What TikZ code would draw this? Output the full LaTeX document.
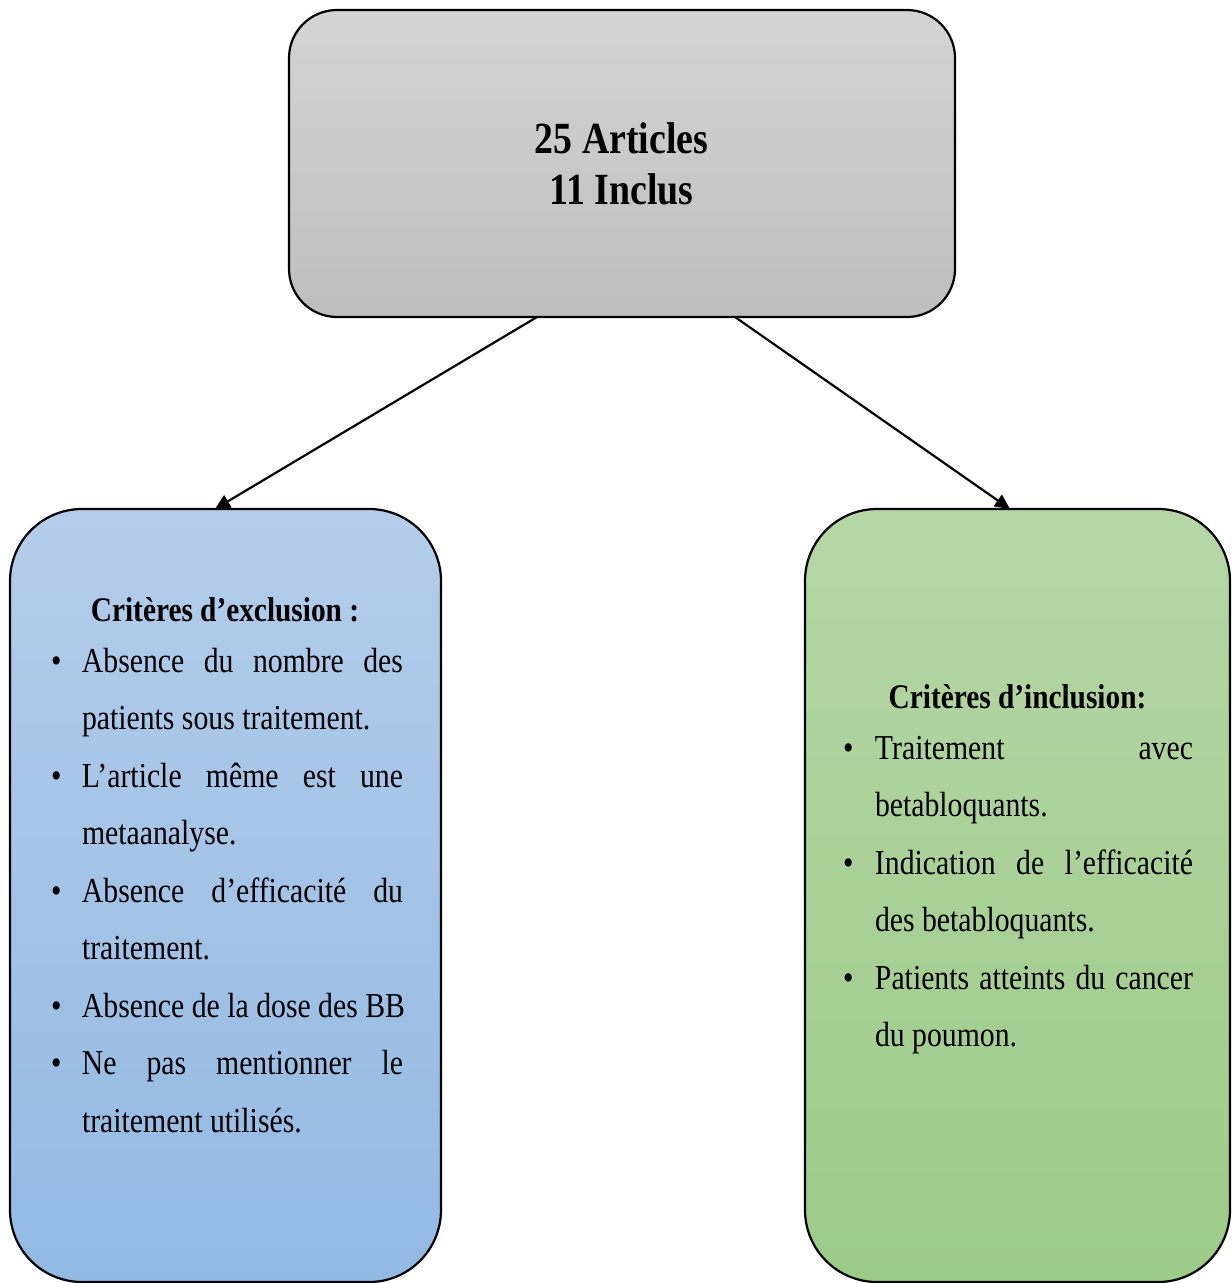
\documentclass[tikz,border=0pt]{standalone}
\usepackage{fontspec}
\setmainfont{Liberation Serif}[FakeStretch=0.85]
\usetikzlibrary{arrows.meta}
\definecolor{grayTop}{RGB}{212,212,212}
\definecolor{grayBot}{RGB}{190,190,190}
\definecolor{blueTop}{RGB}{180,205,234}
\definecolor{blueBot}{RGB}{147,185,227}
\definecolor{greenTop}{RGB}{182,214,167}
\definecolor{greenBot}{RGB}{157,203,136}
\tikzset{
  box/.style={draw=black, line width=2.2pt, inner sep=0pt, outer sep=0pt},
  arr/.style={draw=black, line width=2.2pt, -{Triangle[length=15pt,width=14pt]}},
  ln/.style={anchor=base west, inner sep=0pt, outer sep=0pt, font=\fontsize{35}{42}\selectfont},
  ttl/.style={anchor=base, inner sep=0pt, outer sep=0pt, font=\fontsize{34.5}{42}\selectfont\bfseries},
  big/.style={anchor=base, inner sep=0pt, outer sep=0pt, font=\fontsize{44.5}{51}\selectfont\bfseries}
}
\newcommand{\blt}[1]{\makebox[31pt][l]{\textbullet}#1}
\newcommand{\jl}[1]{\makebox[321pt][s]{#1}}
\newcommand{\jr}[1]{\makebox[318pt][s]{#1}}
\begin{document}
\begin{tikzpicture}[x=1pt,y=-1pt]
\useasboundingbox (0,0) rectangle (1232,1283);
% boxes
\node[box, rounded corners=48pt, top color=grayTop, bottom color=grayBot,
      minimum width=666pt, minimum height=307pt] (top) at (622,163.5) {};
\node[box, rounded corners=72pt, top color=blueTop, bottom color=blueBot,
      minimum width=431pt, minimum height=773pt] (left) at (225.5,895.5) {};
\node[box, rounded corners=72pt, top color=greenTop, bottom color=greenBot,
      minimum width=425pt, minimum height=773pt] (right) at (1017.5,895.5) {};
% arrows
\draw[arr] ([xshift=-85pt]top.south) -- ([xshift=-10.5pt]left.north);
\draw[arr] ([xshift=113pt]top.south) -- ([xshift=-7.5pt]right.north);
% top text
\node[big] (t1) at (621.5,153) {25 Articles};
\node[big] (t2) at (621.5,204) {11 Inclus};
% left text
\node[ttl] (lt) at (225,621) {Critères d’exclusion :};
\node[ln] (l0) at (51,672)   {\blt{\jl{Absence du nombre des}}};
\node[ln] (l1) at (82,729.5) {patients sous traitement.};
\node[ln] (l2) at (51,787)   {\blt{\jl{L’article même est une}}};
\node[ln] (l3) at (82,844.5) {metaanalyse.};
\node[ln] (l4) at (51,902)   {\blt{\jl{Absence d’efficacité du}}};
\node[ln] (l5) at (82,959.5) {traitement.};
\node[ln] (l6) at (51,1017)  {\blt{Absence de la dose des BB}};
\node[ln] (l7) at (51,1074.5){\blt{\jl{Ne pas mentionner le}}};
\node[ln] (l8) at (82,1132)  {traitement utilisés.};
% right text
\node[ttl] (rt) at (1017.5,708) {Critères d’inclusion:};
\node[ln] (r0) at (843,759)    {\blt{\makebox[1pt]{}\jr{Traitement avec}}};
\node[ln] (r1) at (875,816.5)  {betabloquants.};
\node[ln] (r2) at (843,874)    {\blt{\makebox[1pt]{}\jr{Indication de l’efficacité}}};
\node[ln] (r3) at (875,931.5)  {des betabloquants.};
\node[ln] (r4) at (843,989)    {\blt{\makebox[1pt]{}\jr{Patients atteints du cancer}}};
\node[ln] (r5) at (875,1046.5) {du poumon.};
\end{tikzpicture}
\end{document}
